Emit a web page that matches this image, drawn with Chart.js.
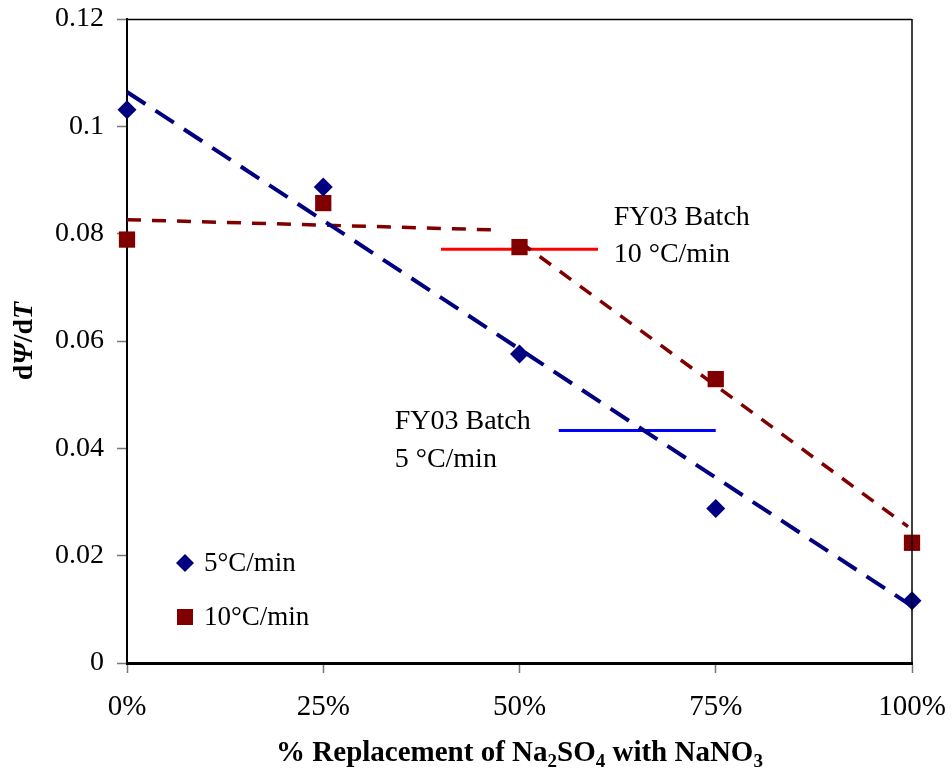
<!DOCTYPE html>
<html>
<head>
<meta charset="utf-8">
<script src="https://cdn.jsdelivr.net/npm/chart.js@4/dist/chart.umd.min.js"></script>
<style>
html,body{margin:0;padding:0;background:#fff;}
#wrap{width:952px;height:772px;position:relative;}
</style>
</head>
<body>
<div id="wrap"><canvas id="c" width="952" height="772"></canvas></div>
<script>
// ---- data ----
const categories = [0, 25, 50, 75, 100];           // % replacement
const tickLabels = ['0%', '25%', '50%', '75%', '100%'];
const rate5 = [0.1031, 0.0887, 0.0576, 0.0288, 0.0116];
const rate10 = [0.0789, 0.0857, 0.0775, 0.0529, 0.0224];
const trend5X = [0, 100];
const trend5Y = [0.1064, 0.0106];
const trend10aX = [0, 47];
const trend10aY = [0.0826, 0.0807];
const trend10bX = [50, 99.5];
const trend10bY = [0.0785, 0.0254];
const batch10X = [40, 60];
const batch10Y = [0.0771, 0.0771];
const batch5X = [55, 75];
const batch5Y = [0.0433, 0.0433];
const yTicks = [0, 0.02, 0.04, 0.06, 0.08, 0.1, 0.12];

const pts = (xs, ys) => xs.map((x, i) => ({x: x, y: ys[i]}));
const SERIF = '"Liberation Serif", "Times New Roman", serif';
const NAVY = '#000080', MAROON = '#800000';

const decor = {
  id: 'decor',
  afterDraw(chart) {
    const ctx = chart.ctx, a = chart.chartArea;
    const xs = chart.scales.x, ys = chart.scales.y;
    ctx.save();
    // top and right frame
    ctx.strokeStyle = '#000'; ctx.lineWidth = 1.5;
    ctx.beginPath();
    ctx.moveTo(a.left, a.top + 0.5); ctx.lineTo(a.right, a.top + 0.5);
    ctx.moveTo(a.right, a.top); ctx.lineTo(a.right, a.bottom);
    ctx.stroke();

    // annotation texts
    ctx.fillStyle = '#000';
    ctx.font = '28px ' + SERIF;
    ctx.textAlign = 'left'; ctx.textBaseline = 'alphabetic';
    let x = xs.getPixelForValue(62), y = ys.getPixelForValue(0.0817);
    ctx.fillText('FY03 Batch', x, y);
    ctx.fillText('10 \u00B0C/min', x, y + 37);
    x = xs.getPixelForValue(34.1); y = ys.getPixelForValue(0.0436);
    ctx.fillText('FY03 Batch', x, y);
    ctx.fillText('5 \u00B0C/min', x, y + 38);

    // legend
    ctx.font = '27px ' + SERIF;
    ctx.textBaseline = 'middle';
    const lx = a.left + 58;
    let ly = 563;
    ctx.fillStyle = NAVY;
    ctx.beginPath();
    ctx.moveTo(lx, ly - 9); ctx.lineTo(lx + 9, ly); ctx.lineTo(lx, ly + 9); ctx.lineTo(lx - 9, ly); ctx.closePath();
    ctx.fill();
    ctx.fillStyle = '#000';
    ctx.fillText('5\u00B0C/min', lx + 19, ly + 1);
    ly = 617;
    ctx.fillStyle = MAROON;
    ctx.fillRect(lx - 8, ly - 8, 16, 16);
    ctx.fillStyle = '#000';
    ctx.fillText('10\u00B0C/min', lx + 19, ly + 1);

    // x axis title with subscripts
    const big = 'bold 29px ' + SERIF, sub = 'bold 19px ' + SERIF;
    const parts = [['% Replacement of Na', big, 0], ['2', sub, 6], ['SO', big, 0], ['4', sub, 6], [' with NaNO', big, 0], ['3', sub, 6]];
    let tw = 0;
    parts.forEach(p => { ctx.font = p[1]; tw += ctx.measureText(p[0]).width; });
    let cx = (a.left + a.right) / 2 - tw / 2;
    const by = 761;
    ctx.textBaseline = 'alphabetic';
    parts.forEach(p => { ctx.font = p[1]; ctx.fillText(p[0], cx, by + p[2]); cx += ctx.measureText(p[0]).width; });

    // y axis title
    ctx.translate(32, (a.top + a.bottom) / 2);
    ctx.rotate(-Math.PI / 2);
    const yparts = [['d', 'bold 28px ' + SERIF], ['\u03A8', 'bold italic 28px ' + SERIF], ['/d', 'bold 28px ' + SERIF], ['T', 'bold italic 28px ' + SERIF]];
    tw = 0;
    yparts.forEach(p => { ctx.font = p[1]; tw += ctx.measureText(p[0]).width; });
    cx = -tw / 2;
    yparts.forEach(p => { ctx.font = p[1]; ctx.fillText(p[0], cx, 0); cx += ctx.measureText(p[0]).width; });
    ctx.restore();
  }
};

new Chart(document.getElementById('c'), {
  type: 'scatter',
  data: {
    datasets: [
      { label: '5°C/min', data: pts(categories, rate5), backgroundColor: NAVY, borderColor: NAVY,
        pointStyle: 'rectRot', pointRadius: 9.5, pointHoverRadius: 9.5, borderWidth: 0, clip: false, order: 1 },
      { label: '10°C/min', data: pts(categories, rate10), backgroundColor: MAROON, borderColor: MAROON,
        pointStyle: 'rect', pointRadius: 11.5, pointHoverRadius: 11.5, borderWidth: 0, clip: false, order: 1 },
      { label: 'trend5', type: 'line', data: pts(trend5X, trend5Y), borderColor: NAVY, borderWidth: 4,
        borderDash: [22, 12], pointRadius: 0, fill: false, clip: false, order: 3 },
      { label: 'trend10a', type: 'line', data: pts(trend10aX, trend10aY), borderColor: MAROON, borderWidth: 3.5,
        borderDash: [14, 11], pointRadius: 0, fill: false, clip: false, order: 3 },
      { label: 'trend10b', type: 'line', data: pts(trend10bX, trend10bY), borderColor: MAROON, borderWidth: 3.5,
        borderDash: [14, 11], pointRadius: 0, fill: false, clip: false, order: 3 },
      { label: 'batch10', type: 'line', data: pts(batch10X, batch10Y), borderColor: '#FF0000', borderWidth: 3,
        pointRadius: 0, fill: false, clip: false, order: 4 },
      { label: 'batch5', type: 'line', data: pts(batch5X, batch5Y), borderColor: '#0000FF', borderWidth: 3,
        pointRadius: 0, fill: false, clip: false, order: 4 }
    ]
  },
  options: {
    responsive: false,
    animation: false,
    events: [],
    layout: { padding: { left: 0, right: 40, top: 19, bottom: 0 } },
    plugins: { legend: { display: false }, tooltip: { enabled: false } },
    scales: {
      x: {
        type: 'linear', min: 0, max: 100,
        afterBuildTicks: s => { s.ticks = categories.map(v => ({value: v})); },
        afterFit: s => { s.height = 109; s.paddingLeft = 0; s.paddingRight = 0; },
        ticks: { callback: (v) => tickLabels[categories.indexOf(v)], color: '#000',
          font: { family: SERIF, size: 29 }, padding: 17, maxRotation: 0 },
        grid: { display: true, drawOnChartArea: false, drawTicks: true, tickLength: 10, tickColor: '#777', tickWidth: 1.5 },
        border: { display: true, color: '#000', width: 3 }
      },
      y: {
        min: 0, max: 0.12,
        afterBuildTicks: s => { s.ticks = yTicks.map(v => ({value: v})); },
        afterFit: s => { s.width = 127; s.paddingTop = 0; s.paddingBottom = 0; },
        ticks: { callback: v => String(+v.toFixed(2)), color: '#000',
          font: { family: SERIF, size: 28 }, padding: 13 },
        grid: { display: true, drawOnChartArea: false, drawTicks: true, tickLength: 10, tickColor: '#777', tickWidth: 1.5 },
        border: { display: true, color: '#000', width: 2 }
      }
    }
  },
  plugins: [decor]
});
</script>
</body>
</html>
